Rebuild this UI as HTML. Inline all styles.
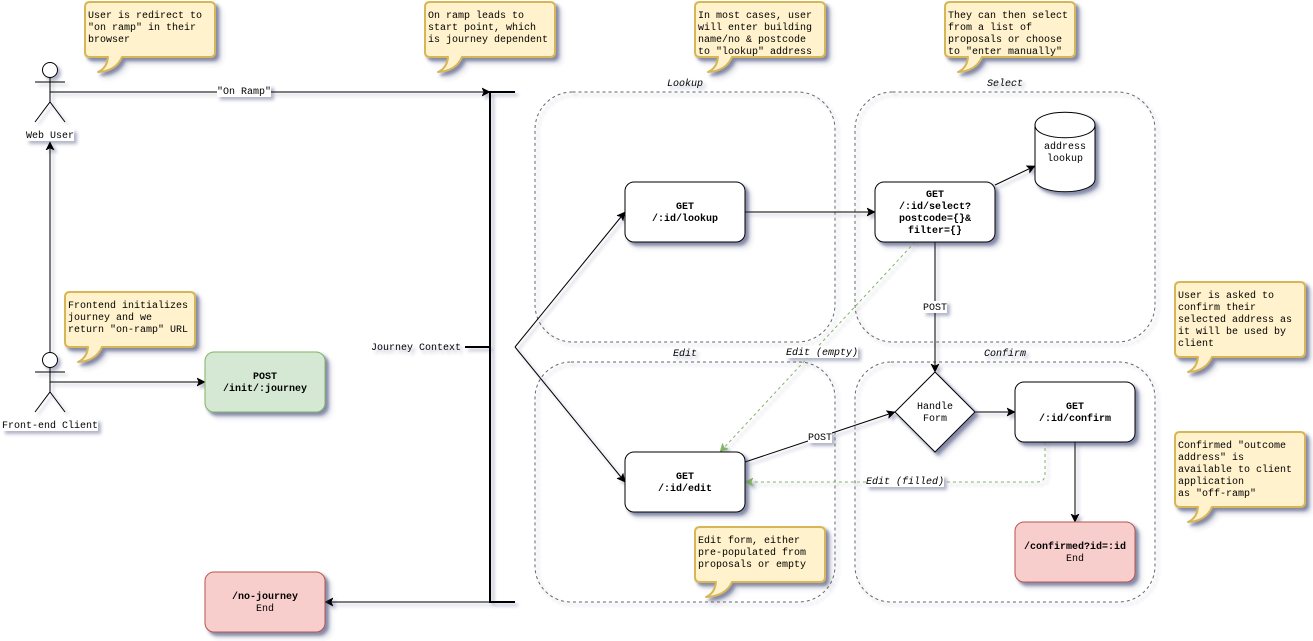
<!DOCTYPE html>
<html><head><meta charset="utf-8"><style>
html,body{margin:0;padding:0;background:#fff;width:1313px;height:641px;overflow:hidden}
svg{display:block}
text{font-family:"Liberation Mono",monospace;font-size:10px;fill:#000}
.c{text-anchor:middle}
.b{font-weight:bold}
.i{font-style:italic}
.box{fill:#fff;stroke:#000;stroke-width:1}
.cont{fill:none;stroke:#666;stroke-width:1;stroke-dasharray:3 3}
.call{fill:#fff2cc;stroke:#d6b656;stroke-width:2;stroke-linejoin:round}
.l{fill:none;stroke:#000;stroke-width:1}
.g{fill:none;stroke:#82b366;stroke-width:1;stroke-dasharray:3 3}
.w{fill:#fff;stroke:none}
</style></head><body>
<svg width="1313" height="641" viewBox="0 0 1313 641" xmlns="http://www.w3.org/2000/svg">
<defs>
<filter id="s" x="0" y="0" width="1313" height="641" filterUnits="userSpaceOnUse">
<feGaussianBlur in="SourceAlpha" stdDeviation="1.7" result="blur"/>
<feOffset in="blur" dx="3" dy="3" result="off"/>
<feFlood flood-color="#3D4574" flood-opacity="0.4" result="col"/>
<feComposite in="col" in2="off" operator="in" result="sh"/>
<feBlend in="SourceGraphic" in2="sh"/>
</filter>
<marker id="a" markerUnits="userSpaceOnUse" markerWidth="12" markerHeight="12" refX="8" refY="5" orient="auto"><path d="M0 1L8 5L0 9L2 5Z" fill="#000" stroke="#000" stroke-width="0.6"/></marker>
<marker id="ag" markerUnits="userSpaceOnUse" markerWidth="12" markerHeight="12" refX="8" refY="5" orient="auto"><path d="M0 1L8 5L0 9L2 5Z" fill="#82b366" stroke="#82b366" stroke-width="0.6"/></marker>
</defs>
<g filter="url(#s)">
<!-- containers -->
<rect class="cont" x="535" y="92" width="300" height="250" rx="37.5"/>
<rect class="cont" x="855" y="92" width="300" height="250" rx="37.5"/>
<rect class="cont" x="535" y="362" width="300" height="240" rx="36"/>
<rect class="cont" x="855" y="362" width="300" height="240" rx="36"/>
<text class="c i" x="685" y="86">Lookup</text>
<text class="c i" x="1005" y="86">Select</text>
<text class="c i" x="685" y="356">Edit</text>
<text class="c i" x="1005" y="356">Confirm</text>

<!-- connectors -->
<path class="l" d="M50 92H490" marker-end="url(#a)"/>
<path class="l" d="M50 352V142" marker-end="url(#a)"/>
<path class="l" d="M50 382H205" marker-end="url(#a)"/>
<path class="l" d="M515 347L625 212" marker-end="url(#a)"/>
<path class="l" d="M515 347L625 482" marker-end="url(#a)"/>
<path class="l" d="M490 602H325" marker-end="url(#a)"/>
<path class="l" d="M745 212H875" marker-end="url(#a)"/>
<path class="l" d="M995 185L1035 166" marker-end="url(#a)"/>
<path class="l" d="M935 242V372" marker-end="url(#a)"/>
<path class="l" d="M975 412H1015" marker-end="url(#a)"/>
<path class="l" d="M745 462L895 412" marker-end="url(#a)"/>
<path class="l" d="M1075 442V522" marker-end="url(#a)"/>
<path class="g" d="M915 242L720 452" marker-end="url(#ag)"/>
<path class="g" d="M1045 442V474Q1045 482 1037 482H745" marker-end="url(#ag)"/>

<!-- bracket -->
<path d="M515 92H490V602H515" fill="none" stroke="#000" stroke-width="2"/>
<path d="M465 347H490" fill="none" stroke="#000" stroke-width="2"/>
<text x="371" y="350">Journey Context</text>

<!-- actors -->
<circle cx="50" cy="70" r="7.5" fill="#fff" stroke="#000"/>
<path class="l" d="M50 77.5V102M35 82H65M35 122L50 102L65 122"/>
<circle cx="50" cy="360" r="7.5" fill="#fff" stroke="#000"/>
<path class="l" d="M50 367.5V392M35 372H65M35 412L50 392L65 412"/>
<rect class="w" x="26" y="129" width="48" height="12"/>
<text class="c" x="50" y="138">Web User</text>
<rect class="w" x="2" y="419" width="96" height="12"/>
<text class="c" x="50" y="428">Front-end Client</text>

<!-- boxes -->
<rect filter="url(#s)" x="205" y="352" width="120" height="60" rx="9" fill="#d5e8d4" stroke="#82b366"/>
<text class="c b" x="265" y="379">POST</text><text class="c b" x="265" y="391">/init/:journey</text>
<rect filter="url(#s)" x="205" y="572" width="120" height="60" rx="9" fill="#f8cecc" stroke="#b85450"/>
<text class="c b" x="265" y="599">/no-journey</text><text class="c" x="265" y="611">End</text>
<rect filter="url(#s)" class="box" x="625" y="182" width="120" height="60" rx="9"/>
<text class="c b" x="685" y="209">GET</text><text class="c b" x="685" y="221">/:id/lookup</text>
<rect filter="url(#s)" class="box" x="875" y="182" width="120" height="60" rx="9"/>
<text class="c b" x="935" y="197">GET</text><text class="c b" x="935" y="209">/:id/select?</text><text class="c b" x="935" y="221">postcode={}&amp;</text><text class="c b" x="935" y="233">filter={}</text>
<rect filter="url(#s)" class="box" x="625" y="452" width="120" height="60" rx="9"/>
<text class="c b" x="685" y="479">GET</text><text class="c b" x="685" y="491">/:id/edit</text>
<rect filter="url(#s)" class="box" x="1015" y="382" width="120" height="60" rx="9"/>
<text class="c b" x="1075" y="409">GET</text><text class="c b" x="1075" y="421">/:id/confirm</text>
<rect filter="url(#s)" x="1015" y="522" width="120" height="60" rx="9" fill="#f8cecc" stroke="#b85450"/>
<text class="c b" x="1075" y="549">/confirmed?id=:id</text><text class="c" x="1075" y="561">End</text>

<!-- diamond + cylinder -->
<path filter="url(#s)" class="box" d="M935 372L975 412L935 452L895 412Z"/>
<text class="c" x="935" y="409">Handle</text><text class="c" x="935" y="421">Form</text>
<path filter="url(#s)" class="box" d="M1035 125C1035 108 1095 108 1095 125V179C1095 196 1035 196 1035 179Z"/>
<path class="l" d="M1035 125C1035 142 1095 142 1095 125"/>
<text class="c" x="1065" y="149">address</text><text class="c" x="1065" y="161">lookup</text>

<!-- edge labels -->
<rect class="w" x="217" y="85" width="54" height="12"/>
<text class="c" x="244" y="94">"On Ramp"</text>
<rect class="w" x="923" y="301" width="24" height="12"/>
<text class="c" x="935" y="310">POST</text>
<rect class="w" x="808" y="431" width="24" height="12"/>
<text class="c" x="820" y="440">POST</text>
<rect class="w" x="786" y="346" width="72" height="12"/>
<text class="c i" x="822" y="355">Edit (empty)</text>
<rect class="w" x="866" y="475" width="78" height="12"/>
<text class="c i" x="905" y="484">Edit (filled)</text>

<!-- callouts -->
<path filter="url(#s)" class="call" d="M90 2H210Q215 2 215 7V52Q215 57 210 57H122Q116 71 98 72Q107 68 108 57H90Q85 57 85 52V7Q85 2 90 2Z"/>
<text x="88" y="18">User is redirect to</text><text x="88" y="30">"on ramp" in their</text><text x="88" y="42">browser</text>
<path filter="url(#s)" class="call" d="M430 2H550Q555 2 555 7V52Q555 57 550 57H462Q456 71 438 72Q447 68 448 57H430Q425 57 425 52V7Q425 2 430 2Z"/>
<text x="428" y="18">On ramp leads to</text><text x="428" y="30">start point, which</text><text x="428" y="42">is journey dependent</text>
<path filter="url(#s)" class="call" d="M700 2H820Q825 2 825 7V52Q825 57 820 57H732Q726 71 708 72Q717 68 718 57H700Q695 57 695 52V7Q695 2 700 2Z"/>
<text x="698" y="18">In most cases, user</text><text x="698" y="30">will enter building</text><text x="698" y="42">name/no &amp; postcode</text><text x="698" y="54">to "lookup" address</text>
<path filter="url(#s)" class="call" d="M950 2H1070Q1075 2 1075 7V52Q1075 57 1070 57H982Q976 71 958 72Q967 68 968 57H950Q945 57 945 52V7Q945 2 950 2Z"/>
<text x="948" y="18">They can then select</text><text x="948" y="30">from a list of</text><text x="948" y="42">proposals or choose</text><text x="948" y="54">to "enter manually"</text>
<path filter="url(#s)" class="call" d="M70 292H190Q195 292 195 297V342Q195 347 190 347H102Q96 361 78 362Q87 358 88 347H70Q65 347 65 342V297Q65 292 70 292Z"/>
<text x="68" y="308">Frontend initializes</text><text x="68" y="320">journey and we</text><text x="68" y="332">return "on-ramp" URL</text>
<path filter="url(#s)" class="call" d="M700 527H820Q825 527 825 532V577Q825 582 820 582H732Q726 596 706 597Q715 593 716 582H700Q695 582 695 577V532Q695 527 700 527Z"/>
<text x="698" y="543">Edit form, either</text><text x="698" y="555">pre-populated from</text><text x="698" y="567">proposals or empty</text>
<path filter="url(#s)" class="call" d="M1180 282H1300Q1305 282 1305 287V352Q1305 357 1300 357H1212Q1206 371 1188 372Q1197 368 1198 357H1180Q1175 357 1175 352V287Q1175 282 1180 282Z"/>
<text x="1178" y="298">User is asked to</text><text x="1178" y="310">confirm their</text><text x="1178" y="322">selected address as</text><text x="1178" y="334">it will be used by</text><text x="1178" y="346">client</text>
<path filter="url(#s)" class="call" d="M1180 432H1300Q1305 432 1305 437V502Q1305 507 1300 507H1212Q1206 521 1188 522Q1197 518 1198 507H1180Q1175 507 1175 502V437Q1175 432 1180 432Z"/>
<text x="1178" y="448">Confirmed "outcome</text><text x="1178" y="460">address" is</text><text x="1178" y="472">available to client</text><text x="1178" y="484">application</text><text x="1178" y="496">as "off-ramp"</text>
</g>
</svg>
</body></html>
